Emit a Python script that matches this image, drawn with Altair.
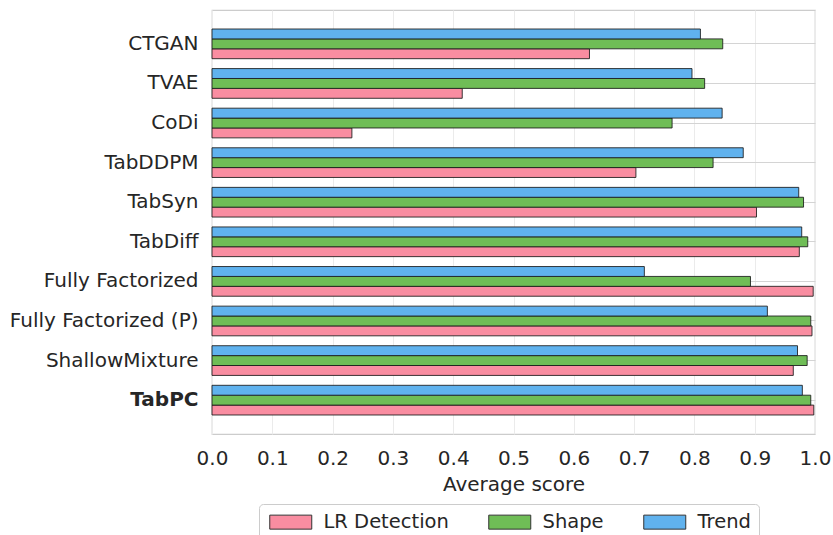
import altair as alt
import pandas as pd

models = ["CTGAN", "TVAE", "CoDi", "TabDDPM", "TabSyn", "TabDiff",
          "Fully Factorized", "Fully Factorized (P)", "ShallowMixture", "TabPC"]
lr_detection = [0.626, 0.415, 0.232, 0.703, 0.903, 0.974, 0.997, 0.995, 0.964, 0.998]
shape = [0.847, 0.817, 0.763, 0.831, 0.981, 0.988, 0.893, 0.993, 0.987, 0.993]
trend = [0.810, 0.796, 0.846, 0.881, 0.973, 0.978, 0.717, 0.921, 0.971, 0.979]

metrics = ["LR Detection", "Shape", "Trend"]
colors = ["#f98da1", "#6fbd56", "#60b2ee"]

rows = []
for name, series in zip(metrics, [lr_detection, shape, trend]):
    for m, v in zip(models, series):
        rows.append({"model": m, "metric": name, "score": v})
df = pd.DataFrame(rows)

txt = "#262626"

chart = alt.Chart(df).mark_bar(
    stroke="#1a1a1a", strokeWidth=1, strokeOpacity=0.85
).encode(
    x=alt.X("score:Q",
            scale=alt.Scale(domain=[0, 1], nice=False, zero=True),
            axis=alt.Axis(title="Average score", values=[i / 10 for i in range(11)],
                          format=".1f", ticks=False, domain=False,
                          grid=True, gridColor="#ebebeb", gridWidth=1,
                          labelFontSize=20, labelPadding=14, labelColor=txt,
                          titleFontSize=20, titleFontWeight="normal", titleColor=txt,
                          titlePadding=6, labelFlush=False)),
    y=alt.Y("model:N", sort=models,
            scale=alt.Scale(paddingInner=0.25, paddingOuter=0.48),
            axis=alt.Axis(title=None, ticks=False, domain=False, grid=True,
                          gridColor="#d4d4d4", gridWidth=1.2, bandPosition=0.5,
                          labelFontSize=20, labelPadding=14, labelColor=txt, labelLimit=400,
                          labelFontWeight={"expr": "datum.value == 'TabPC' ? 'bold' : 'normal'"})),
    yOffset=alt.YOffset("metric:N", sort=["Trend", "Shape", "LR Detection"],
                        scale=alt.Scale(paddingInner=0, paddingOuter=0)),
    color=alt.Color("metric:N",
                    scale=alt.Scale(domain=metrics, range=colors),
                    legend=alt.Legend(title=None, orient="none", legendX=47, legendY=494,
                                      direction="horizontal", columns=3,
                                      symbolType="M-3,-1L3,-1L3,1L-3,1Z",
                                      symbolSize=196, symbolOffset=14,
                                      symbolStrokeColor="#333333",
                                      symbolStrokeWidth=1, symbolOpacity=1,
                                      labelFontSize=19.5, labelColor=txt, labelOffset=23,
                                      columnPadding=37, padding=8,
                                      strokeColor="#cccccc", fillColor="white",
                                      cornerRadius=4)),
).properties(
    width=603, height=424,
    autosize=alt.AutoSizeParams(type="none"),
    padding={"left": 212, "top": 10, "right": 18, "bottom": 101},
).configure(
    font="DejaVu Sans",
).configure_view(
    stroke="#cccccc", strokeWidth=1.25,
)

chart.save("out.html", embed_options={"renderer": "svg", "actions": False})
